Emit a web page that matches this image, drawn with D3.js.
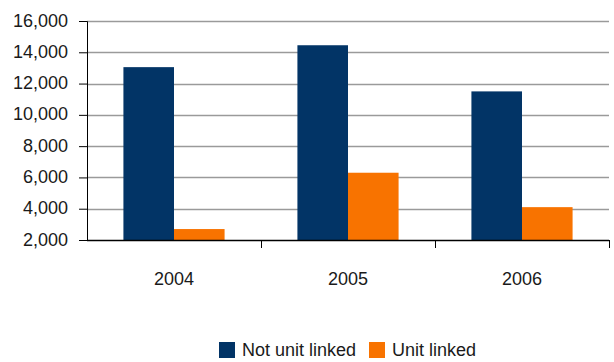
<!DOCTYPE html>
<html><head><meta charset="utf-8">
<script src="https://cdn.jsdelivr.net/npm/d3@7"></script>
<style>body{margin:0;background:#fff}svg{display:block;font-family:"Liberation Sans",Arial,sans-serif}</style>
</head><body>
<script>
const categories = ["2004","2005","2006"];
const seriesNames = ["Not unit linked","Unit linked"];
const notUnitLinked = [13050, 14450, 11500];
const unitLinked = [2700, 6300, 4100];
const yTicks = [2000,4000,6000,8000,10000,12000,14000,16000];
const colors = ["#023466","#F87300"];

const W=614,H=362;
const svg=d3.select("body").append("svg").attr("width",W).attr("height",H);
const x0=d3.scaleBand().domain(categories).range([87,609]).paddingInner(0).paddingOuter(0);
const y=d3.scaleLinear().domain([2000,16000]).range([240,21]);
const x1=d3.scaleBand().domain(seriesNames).range([0,x0.bandwidth()]).paddingInner(0).paddingOuter(0.72);

// gridlines
svg.append("g").selectAll("line").data(yTicks.slice(1)).join("line")
  .attr("x1",87).attr("x2",609).attr("y1",d=>Math.round(y(d))+0.5).attr("y2",d=>Math.round(y(d))+0.5)
  .attr("stroke","#9a9a9a").attr("stroke-width",1.3);

// bars
const data=categories.map((c,i)=>({c,vals:[notUnitLinked[i],unitLinked[i]]}));
svg.append("g").selectAll("g").data(data).join("g")
  .attr("transform",d=>`translate(${x0(d.c)},0)`)
  .selectAll("rect").data(d=>d.vals.map((v,j)=>({s:seriesNames[j],v,j}))).join("rect")
  .attr("x",d=>x1(d.s)).attr("width",x1.bandwidth())
  .attr("y",d=>y(d.v)).attr("height",d=>y(2000)-y(d.v))
  .attr("fill",d=>colors[d.j]);

// y axis
const ya=d3.axisLeft(y).tickValues(yTicks).tickFormat(d3.format(",")).tickSize(8).tickPadding(11);
const yg=svg.append("g").attr("transform","translate(87,0)").call(ya);
yg.select(".domain").attr("stroke","#000");
yg.selectAll(".tick line").attr("stroke","#000");
yg.selectAll("text").attr("font-size",18).attr("fill","#1a1a1a").attr("dy","0.28em")
  .attr("font-family","'Liberation Sans',Arial,sans-serif");

// x axis
const xa=d3.axisBottom(x0).tickSize(0).tickPadding(0);
const xg=svg.append("g").attr("transform","translate(0,240)").call(xa);
xg.select(".domain").remove();
xg.selectAll("text").attr("font-size",18).attr("fill","#1a1a1a").attr("y",45).attr("dy",0)
  .attr("font-family","'Liberation Sans',Arial,sans-serif");
svg.append("line").attr("x1",87).attr("x2",609).attr("y1",240.5).attr("y2",240.5).attr("stroke","#000").attr("stroke-width",1.3);
const boundaries=categories.slice(1).map(c=>x0(c)).concat([609]);
svg.append("g").selectAll("line").data(boundaries).join("line")
  .attr("x1",d=>Math.round(d)+0.5).attr("x2",d=>Math.round(d)+0.5).attr("y1",240).attr("y2",248)
  .attr("stroke","#000");

// legend
const lx=[219,369];
const lg=svg.append("g").selectAll("g").data(seriesNames).join("g")
  .attr("transform",(d,i)=>`translate(${lx[i]},342)`);
lg.append("rect").attr("width",16).attr("height",16).attr("fill",(d,i)=>colors[i]);
lg.append("text").attr("x",23).attr("y",14).attr("font-size",18).attr("fill","#1a1a1a").text(d=>d);
</script>
</body></html>
